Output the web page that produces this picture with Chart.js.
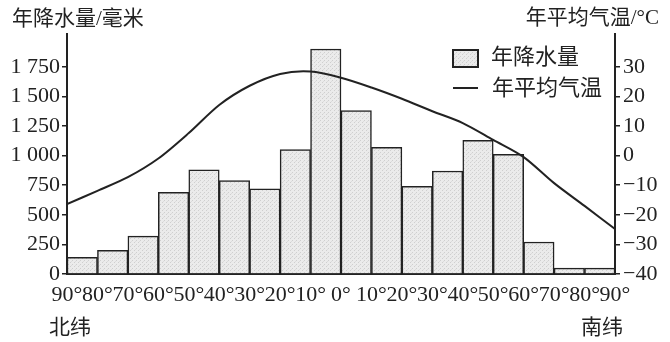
<!DOCTYPE html>
<html>
<head>
<meta charset="utf-8">
<script src="https://cdn.jsdelivr.net/npm/chart.js@4.4.1/dist/chart.umd.min.js"></script>
<style>
  html, body { margin: 0; padding: 0; background: #fff; }
</style>
</head>
<body>
<canvas id="chart" width="670" height="342"></canvas>
<script>
// latitude edges shown under the x axis (north -> south)
const edgeLabels = ['90°','80°','70°','60°','50°','40°','30°','20°','10°','0°',
                    '10°','20°','30°','40°','50°','60°','70°','80°','90°'];
// 10° zones, one bar each
const zones = ['90°N-80°N','80°N-70°N','70°N-60°N','60°N-50°N','50°N-40°N','40°N-30°N',
               '30°N-20°N','20°N-10°N','10°N-0°','0°-10°S','10°S-20°S','20°S-30°S',
               '30°S-40°S','40°S-50°S','50°S-60°S','60°S-70°S','70°S-80°S','80°S-90°S'];
const rainfall = [140, 200, 320, 690, 880, 790, 720, 1050, 1900,
                  1380, 1070, 740, 870, 1130, 1010, 270, 50, 50];
// temperature read at each latitude edge
const temperature = [-16.4, -11.9, -7.3, -1.0, 7.6, 17.1, 23.6, 27.6, 28.4, 26.3,
                     23.0, 19.2, 15.0, 11.0, 5.3, -0.5, -9.3, -17.0, -24.8];
const rainTicks = [0, 250, 500, 750, 1000, 1250, 1500, 1750];
const tempTicks = [-40, -30, -20, -10, 0, 10, 20, 30];

const leftTitle = '年降水量/毫米';
const rightTitle = '年平均气温/°C';
const rainMax = 2027;
const ink = '#222';
const serif = "'Liberation Serif', 'Noto Sans CJK SC'";

// light stipple fill like the printed bars
function makeStipple() {
  const p = document.createElement('canvas');
  p.width = 4; p.height = 4;
  const g = p.getContext('2d');
  g.fillStyle = '#ebebeb';
  g.fillRect(0, 0, 4, 4);
  g.fillStyle = '#cfcfcf';
  g.fillRect(0, 0, 1, 1);
  g.fillRect(2, 2, 1, 1);
  g.fillStyle = '#dcdcdc';
  g.fillRect(3, 1, 1, 1);
  return document.getElementById('chart').getContext('2d').createPattern(p, 'repeat');
}
const stipple = makeStipple();

function fmtRain(v) {
  if (v >= 1000) return Math.floor(v / 1000) + ' ' + String(v % 1000).padStart(3, '0');
  return String(v);
}

const extras = {
  id: 'extras',
  afterDraw(chart) {
    const c = chart.ctx;
    const xs = chart.scales.x;
    c.save();
    c.fillStyle = ink;
    c.textBaseline = 'middle';
    c.font = '21px ' + serif;
    c.textAlign = 'left';
    c.fillText(leftTitle, 12, 19);
    c.textAlign = 'right';
    c.fillText(rightTitle, 659, 18);

    // legend
    c.fillStyle = stipple;
    c.fillRect(453, 50, 25, 17);
    c.strokeStyle = ink;
    c.lineWidth = 2;
    c.strokeRect(453, 50, 25, 17);
    c.beginPath();
    c.moveTo(453, 88);
    c.lineTo(478, 88);
    c.stroke();
    c.fillStyle = ink;
    c.textAlign = 'left';
    c.font = '22px ' + serif;
    c.fillText(chart.data.datasets[0].label, 491, 58);
    c.fillText(chart.data.datasets[1].label, 492, 89);

    // hemisphere notes
    c.textAlign = 'center';
    c.font = '21px ' + serif;
    c.fillText('北纬', xs.getPixelForValue(0) + 3, 328);
    c.fillText('南纬', xs.getPixelForValue(edgeLabels.length - 1) - 13, 328);
    c.restore();
  }
};

new Chart(document.getElementById('chart'), {
  type: 'line',
  data: {
    datasets: [
      {
        type: 'bar',
        label: '年降水量',
        data: rainfall.map((v, i) => ({ x: i + 0.5, y: v, zone: zones[i] })),
        backgroundColor: stipple,
        borderColor: ink,
        borderWidth: 1.5,
        barPercentage: 1,
        categoryPercentage: 1,
        yAxisID: 'y',
        order: 2
      },
      {
        type: 'line',
        label: '年平均气温',
        data: temperature.map((v, i) => ({ x: i, y: v })),
        borderColor: ink,
        borderWidth: 2,
        pointRadius: 0,
        tension: 0.3,
        fill: false,
        yAxisID: 'y1',
        order: 1
      }
    ]
  },
  options: {
    responsive: false,
    animation: false,
    devicePixelRatio: 1,
    layout: { padding: { top: 34, left: 0, right: 0, bottom: 0 } },
    plugins: { legend: { display: false }, tooltip: { enabled: false } },
    scales: {
      x: {
        type: 'linear',
        min: 0,
        max: edgeLabels.length - 1,
        offset: false,
        afterBuildTicks: s => { s.ticks = edgeLabels.map((_, i) => ({ value: i })); },
        afterFit: s => { s.height = 68; },
        ticks: {
          autoSkip: false,
          maxRotation: 0,
          minRotation: 0,
          padding: 8,
          color: ink,
          font: { family: serif, size: 22 },
          callback: (v, i) => edgeLabels[i]
        },
        grid: { drawOnChartArea: false, drawTicks: false, color: ink },
        border: { display: true, color: ink, width: 2 }
      },
      y: {
        position: 'left',
        min: 0,
        max: rainMax,
        afterBuildTicks: s => { s.ticks = rainTicks.map(v => ({ value: v })); },
        afterFit: s => { s.width = 67; },
        ticks: {
          padding: 2,
          color: ink,
          font: { family: serif, size: 22 },
          callback: v => fmtRain(v)
        },
        grid: { drawOnChartArea: false, drawTicks: true, tickLength: 5, color: ink, lineWidth: 1.5 },
        border: { display: true, color: ink, width: 2 }
      },
      y1: {
        position: 'right',
        min: tempTicks[0],
        max: tempTicks[0] + rainMax / 25,
        afterBuildTicks: s => { s.ticks = tempTicks.map(v => ({ value: v })); },
        afterFit: s => { s.width = 55; },
        ticks: {
          padding: 3,
          color: ink,
          font: { family: serif, size: 22 },
          callback: v => (v < 0 ? '−' + (-v) : String(v))
        },
        grid: { drawOnChartArea: false, drawTicks: true, tickLength: 5, color: ink, lineWidth: 1.5 },
        border: { display: true, color: ink, width: 2 }
      }
    }
  },
  plugins: [extras]
});
</script>
</body>
</html>
